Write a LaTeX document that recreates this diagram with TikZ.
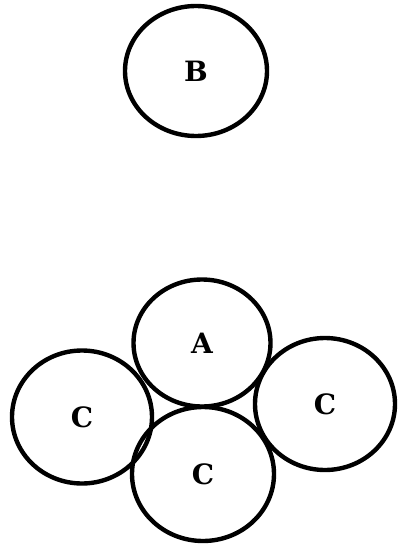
\documentclass[tikz,border=0pt]{standalone}
\usepackage{fontspec}
\usepackage{tikz}
\usetikzlibrary{shapes.geometric}

\newfontfamily\ballfont{DejaVu Serif}
\newcommand{\balltext}{\ballfont\fontsize{28}{32}\selectfont\bfseries}
\tikzset{
  ball/.style={draw, ellipse, line width=4.4pt, inner sep=0pt,
    font=\balltext}
}

\begin{document}
\begin{tikzpicture}[x=1pt, y=-1pt]
  \useasboundingbox (0,0) rectangle (397,546);

  % single ball on top
  \node[ball, minimum width=142pt, minimum height=130pt] (B) at (196,71) {B};

  % cluster: A resting on the three C balls
  \node[ball, minimum width=137pt, minimum height=127pt] (A) at (202,343) {A};
  \node[ball, minimum width=140pt, minimum height=133pt] (Cl) at (82,417) {C};
  \node[ball, minimum width=140pt, minimum height=132pt] (Cr) at (325,404) {C};
  \node[ball, minimum width=142pt, minimum height=134pt] (Cb) at (203,474) {C};
\end{tikzpicture}
\end{document}
